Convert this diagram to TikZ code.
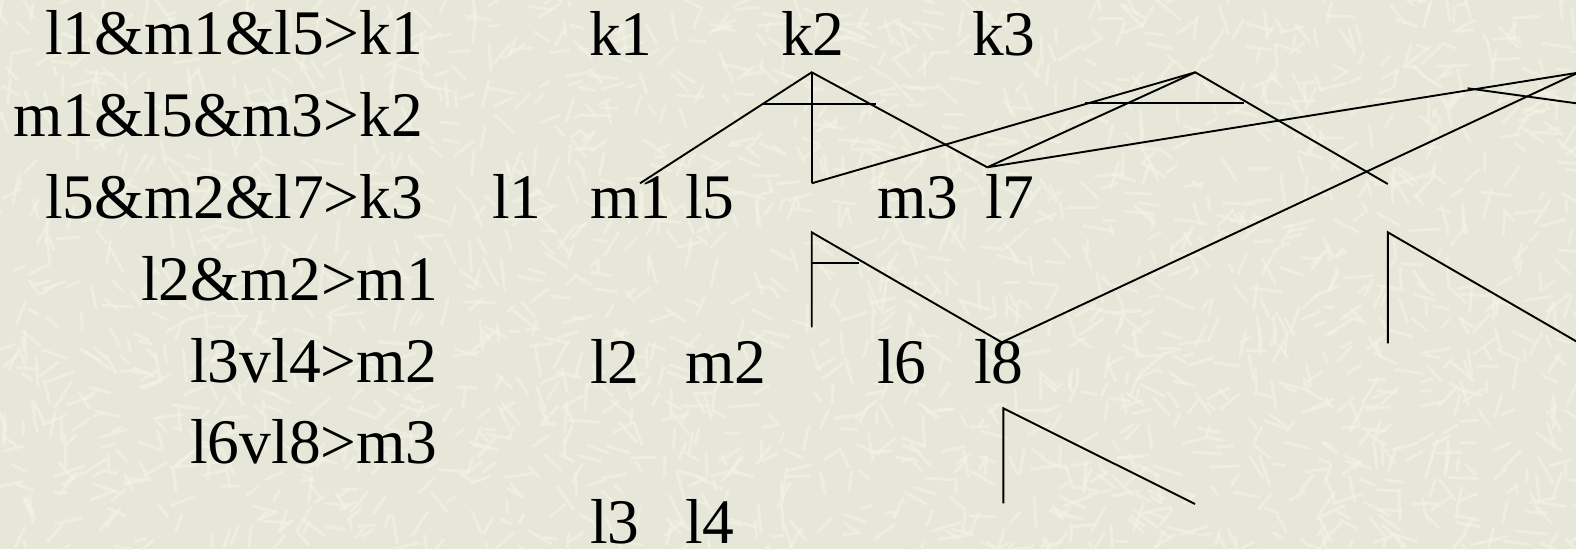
\documentclass[tikz,border=0pt]{standalone}
\usepackage{fontspec}
\setmainfont{Liberation Serif}
\definecolor{paper}{HTML}{E7E7D9}
\definecolor{streak}{HTML}{F2F2E5}
\tikzset{
  txt/.style={font=\fontsize{63.5}{76}\selectfont, anchor=base west, inner sep=0pt, text=black},
  gate/.style={line width=1.9pt, black},
  texture/.style={line width=3pt, streak, line cap=round, opacity=0.65}
}
\begin{document}
\begin{tikzpicture}[x=1pt,y=-1pt]
\useasboundingbox (0,0) rectangle (1576,549);
\clip (0,0) rectangle (1576,549);
\fill[paper] (0,0) rectangle (1576,549);
% paper texture
\pgfmathsetseed{4711}
\foreach \i in {1,...,2200}{
  \draw[texture] ({rnd*1600-12},{rnd*575-12}) -- ++({rnd*360}:{8+rnd*24});
}
% rules
\node[txt] (r1) at (45,54) {l1\&m1\&l5>k1};
\node[txt] (r2) at (13,136.5) {m1\&l5\&m3>k2};
\node[txt] (r3) at (45,218.5) {l5\&m2\&l7>k3};
\node[txt] (r4) at (141,300) {l2\&m2>m1};
\node[txt] (r5) at (190,382) {l3vl4>m2};
\node[txt] (r6) at (190,463.5) {l6vl8>m3};
% tree labels
\node[txt] (k1) at (589,55) {k1};
\node[txt] (k2) at (781,55) {k2};
\node[txt] (k3) at (972,55) {k3};
\node[txt] (l1) at (492,218.5) {l1};
\node[txt] (m1) at (590,218.5) {m1};
\node[txt] (l5) at (685,218.5) {l5};
\node[txt] (m3) at (877,218.5) {m3};
\node[txt] (l7) at (985,218.5) {l7};
\node[txt] (l2) at (590,383) {l2};
\node[txt] (m2) at (685,383) {m2};
\node[txt] (l6) at (877,383) {l6};
\node[txt] (l8) at (974,383) {l8};
\node[txt, text depth=0pt] (l3) at (590,543) {l3};
\node[txt, text depth=0pt] (l4) at (685,543) {l4};
% gate points
\coordinate (A2) at (811.7,72.3);
\coordinate (A3) at (1195.3,72.3);
\coordinate (A4) at (1578,72.7);
\coordinate (pm1) at (640,183.3);
\coordinate (pl5) at (811.7,183.3);
\coordinate (pl7) at (987.3,167.3);
\coordinate (e3) at (1387.8,184);
\coordinate (Bm1) at (811.7,232.3);
\coordinate (Bm1b) at (811.7,327.3);
\coordinate (pl8) at (1001.7,342.3);
\coordinate (Bm3) at (1003.3,408.3);
\coordinate (Bm3b) at (1003.3,503.3);
\coordinate (Bm3e) at (1195,504);
\coordinate (Br) at (1387.8,232.3);
\coordinate (Brb) at (1387.8,343.3);
\coordinate (Bre) at (1580,343.5);
% k2 gate
\draw[gate] (pm1) -- (A2) -- (pl7);
\draw[gate] (A2) -- (pl5);
\draw[gate] (763,104) -- (875.7,104);
% k3 gate
\draw[gate] (pl5) -- (A3) -- (e3);
\draw[gate] (pl7) -- (A3);
\draw[gate] (1085.2,103.3) -- (1243.6,103.3);
% right gate (clipped)
\draw[gate] (pl7) -- (A4);
\draw[gate] (pl8) -- (A4);
\draw[gate] (1467.6,88.3) -- (1580,103.8);
% m1 gate
\draw[gate] (Bm1b) -- (Bm1) -- (pl8);
\draw[gate] (811.7,263.3) -- (859.3,263.3);
% m3 gate
\draw[gate] (Bm3b) -- (Bm3) -- (Bm3e);
% right lower gate
\draw[gate] (Brb) -- (Br) -- (Bre);
\end{tikzpicture}
\end{document}
